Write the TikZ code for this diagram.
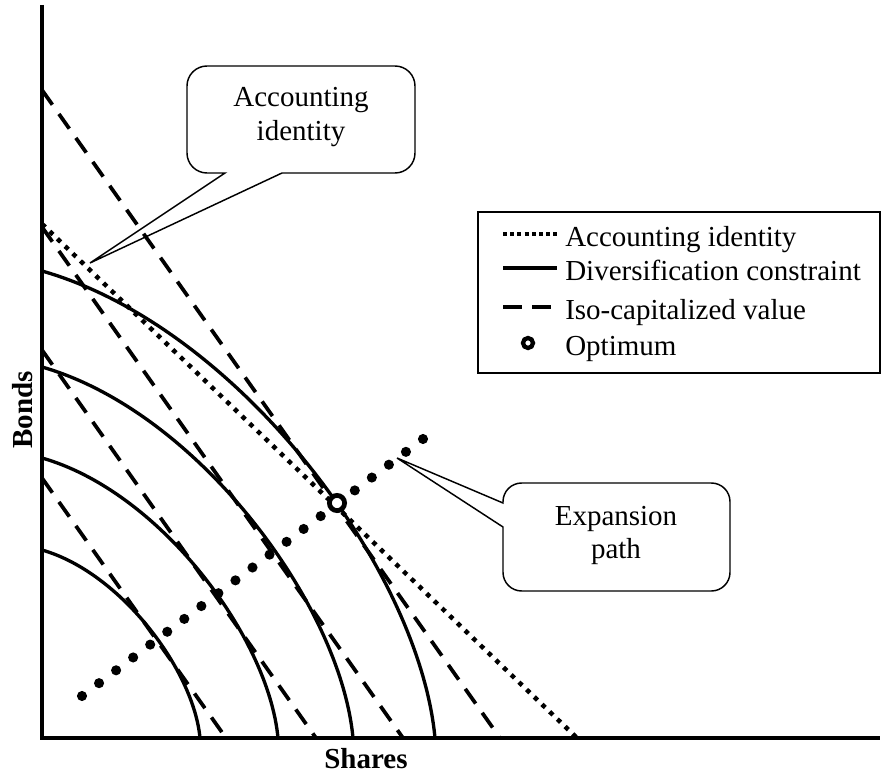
\documentclass[tikz,border=0pt]{standalone}
\usepackage{fontspec}
\setmainfont{Liberation Serif}
\usetikzlibrary{calc}
\begin{document}
\begin{tikzpicture}[x=0.75pt, y=-0.75pt,
  axis/.style={line width=3pt},
  curve/.style={line width=2.5pt},
  isoline/.style={line width=2.8pt, dash pattern=on 13.5pt off 8.5pt},
  acctline/.style={line width=3.4pt, dash pattern=on 3.4pt off 4.6pt},
  callout/.style={line width=1.1pt},
  lbl/.style={font=\fontsize{21.75pt}{26pt}\selectfont, inner sep=0pt},
  lblb/.style={font=\fontsize{21.75pt}{26pt}\selectfont\bfseries, inner sep=0pt},
]
\useasboundingbox (0,0) rectangle (886,774);

% axes
\coordinate (O) at (42,738);
\coordinate (ytop) at (42,5);
\coordinate (xend) at (880,738);
\draw[axis] (ytop) -- (O) -- (xend);

% diversification constraints
\foreach \w/\h in {158/188, 236/280, 311/371, 393/467}{
  \begin{scope}[shift={(O)}, xscale=\w, yscale=-\h]
    \draw[curve] (0,1) .. controls (0.5,0.88) and (0.96,0.36) .. (1,0);
  \end{scope}
}

% accounting identity
\coordinate (a1) at (42,224);
\coordinate (a2) at (577,738);
\draw[acctline] (a1) -- (a2);

% iso-capitalized value lines
\coordinate (d1s) at (42,478); \coordinate (d1e) at (226,738);
\coordinate (d2s) at (42,350); \coordinate (d2e) at (316,738);
\coordinate (d3s) at (42,227); \coordinate (d3e) at (403,738);
\coordinate (d4s) at (42,90);  \coordinate (d4e) at (500,738);
\draw[isoline] (d1s) -- (d1e);
\draw[isoline] (d2s) -- (d2e);
\draw[isoline] (d3s) -- (d3e);
\draw[isoline] (d4s) -- (d4e);

% expansion path
\coordinate (e0) at (82,696);
\coordinate (e1) at (423,439);
\foreach \i in {0,...,14,16,17,18,19,20}
  \fill ($(e0)!\i/20!(e1)$) circle (3.8pt);

% optimum
\node[draw, circle, line width=3.6pt, minimum size=11.4pt, inner sep=0pt, fill=white] (opt) at (337,503) {};

% callout: accounting identity
\draw[callout, rounded corners=15pt] (301,66) -- (415,66) -- (415,173) [sharp corners] -- (282,173) -- (90,263) -- (225,173) [rounded corners=15pt] -- (187,173) -- (187,66) -- cycle;
\node[lbl, anchor=base] (c1a) at (301,107) {Accounting};
\node[lbl, anchor=base] (c1b) at (301,141) {identity};

% callout: expansion path
\draw[callout, rounded corners=14pt] (616,483) -- (730,483) -- (730,591) -- (503,591) [sharp corners] -- (503,527) -- (397,458) -- (503,503) [rounded corners=14pt] -- (503,483) -- cycle;
\node[lbl, anchor=base] (c2a) at (616,525) {Expansion};
\node[lbl, anchor=base] (c2b) at (616,558) {path};

% legend
\draw[line width=1.5pt] (478,212) rectangle (880,373);
\coordinate (l1a) at (503,234); \coordinate (l1b) at (557,234);
\coordinate (l2a) at (503,268); \coordinate (l2b) at (557,268);
\coordinate (l3a) at (503,307); \coordinate (l3b) at (552,307);
\draw[line width=3pt, dash pattern=on 3pt off 2.4pt] (l1a) -- (l1b);
\draw[curve] (l2a) -- (l2b);
\draw[line width=2.6pt, dash pattern=on 14pt off 8pt] (l3a) -- (l3b);
\node[draw, circle, line width=3.2pt, minimum size=7.5pt, inner sep=0pt] (lopt) at (528,343) {};
\node[lbl, anchor=base west] (t1) at (565,246) {Accounting identity};
\node[lbl, anchor=base west] (t2) at (565,280) {Diversification constraint};
\node[lbl, anchor=base west] (t3) at (565,319) {Iso-capitalized value};
\node[lbl, anchor=base west] (t4) at (565,355) {Optimum};

% axis labels
\node[lblb, rotate=90, anchor=base] (bonds) at (32,410) {Bonds};
\node[lblb, anchor=base] (shares) at (366,768) {Shares};
\end{tikzpicture}
\end{document}
